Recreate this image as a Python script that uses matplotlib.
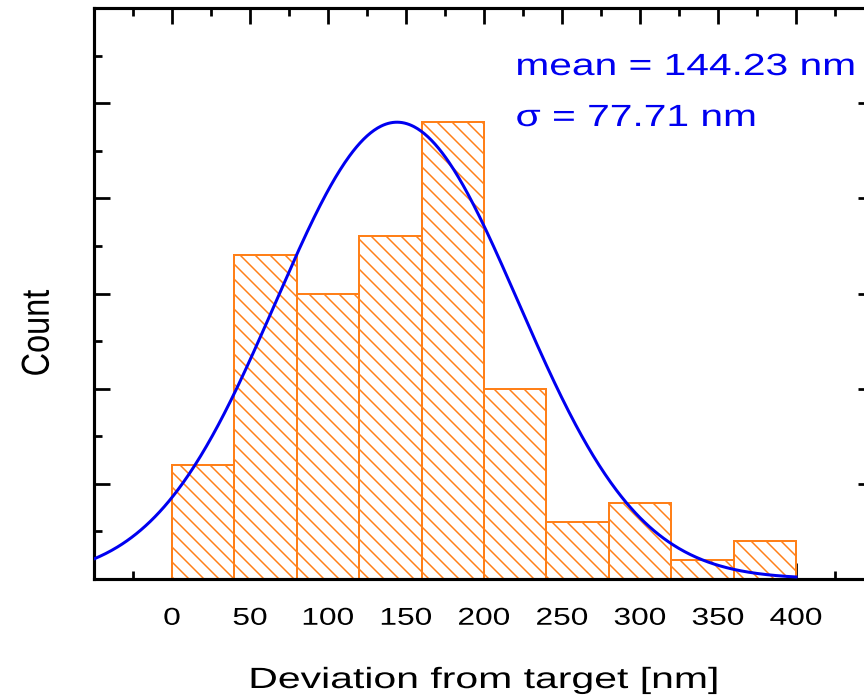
import numpy as np
import matplotlib
matplotlib.use("Agg")
import matplotlib.pyplot as plt
from matplotlib.patheffects import AbstractPathEffect
from matplotlib.transforms import Affine2D
from matplotlib.ticker import FixedLocator

# ---- data ----
bin_edges = [0, 40, 80, 120, 160, 200, 240, 280, 320, 360, 400]
counts = [6, 17, 15, 18, 24, 10, 3, 4, 1, 2]
fit_mean = 144.23
fit_sigma = 77.71
fit_amplitude = 24.0
fit_range = [-50, 400]
x_tick_values = [0, 50, 100, 150, 200, 250, 300, 350, 400]
x_tick_labels = ["0", "50", "100", "150", "200", "250", "300", "350", "400"]
mean_label = "mean = 144.23 nm"
sigma_label = "σ = 77.71 nm"
x_label = "Deviation from target [nm]"
y_label = "Count"

ORANGE = "#FF8019"
BLUE = "#0000F0"

plt.rcParams["font.family"] = ["Liberation Sans", "DejaVu Sans"]
plt.rcParams["hatch.linewidth"] = 1.2
plt.rcParams["hatch.color"] = ORANGE


class HStretch(AbstractPathEffect):
    """Stretch rendered text horizontally (display x) about an anchor."""

    def __init__(self, sx=1.3, anchor="center"):
        super().__init__()
        self.sx = sx
        self.anchor = anchor

    def draw_path(self, renderer, gc, tpath, affine, rgbFace=None):
        ext = tpath.get_extents(affine)
        if self.anchor == "left":
            a = ext.x0
        elif self.anchor == "right":
            a = ext.x1
        else:
            a = 0.5 * (ext.x0 + ext.x1)
        new = affine + Affine2D().translate(-a, 0).scale(self.sx, 1.0).translate(a, 0)
        renderer.draw_path(gc, tpath, new, rgbFace)


W, H, DPI = 864, 696, 90
fig = plt.figure(figsize=(W / DPI, H / DPI), dpi=DPI)
ax = fig.add_axes([94 / W, 117 / H, 780 / W, 571 / H])

lefts = bin_edges[:-1]
widths = np.diff(bin_edges)
ax.bar(lefts, counts, width=widths, align="edge", facecolor="white",
       edgecolor=ORANGE, hatch="\\\\", linewidth=1.6, zorder=2)

xs = np.linspace(fit_range[0], fit_range[1], 600)
ys = fit_amplitude * np.exp(-(xs - fit_mean) ** 2 / (2 * fit_sigma ** 2))
ax.plot(xs, ys, color=BLUE, linewidth=2.4, zorder=3)

ax.set_xlim(-50, 450)
ax.set_ylim(0, 30)

ax.xaxis.set_major_locator(FixedLocator(x_tick_values))
ax.xaxis.set_minor_locator(FixedLocator(np.arange(-25, 450, 50)))
ax.yaxis.set_major_locator(FixedLocator(np.arange(0, 31, 5)))
ax.yaxis.set_minor_locator(FixedLocator(np.arange(2.5, 30, 5)))
ax.set_xticklabels(x_tick_labels)

for s in ax.spines.values():
    s.set_linewidth(2.5)
    s.set_color("black")

ax.tick_params(which="both", direction="in", top=True, right=True,
               width=2.2, colors="black", labelleft=False)
ax.tick_params(which="major", length=12.5)
ax.tick_params(which="minor", length=6.4)
ax.tick_params(axis="x", which="major", labelsize=19.5, pad=23)

for lbl in ax.get_xticklabels():
    lbl.set_path_effects([HStretch(1.3, "center")])

fig.text(484 / W, (H - 688) / H, x_label, ha="center", va="baseline",
         fontsize=23.4, path_effects=[HStretch(1.4, "center")])
fig.text(38 / W, (H - 333) / H, y_label, ha="center", va="center",
         rotation=90, fontsize=26, path_effects=[HStretch(1.2, "center")])

fig.text(516 / W, (H - 75) / H, mean_label, ha="left", va="baseline",
         fontsize=24.5, color=BLUE, path_effects=[HStretch(1.33, "left")])
fig.text(516 / W, (H - 126) / H, sigma_label, ha="left", va="baseline",
         fontsize=24.5, color=BLUE, path_effects=[HStretch(1.33, "left")])

fig.savefig("out.png", dpi=DPI)
